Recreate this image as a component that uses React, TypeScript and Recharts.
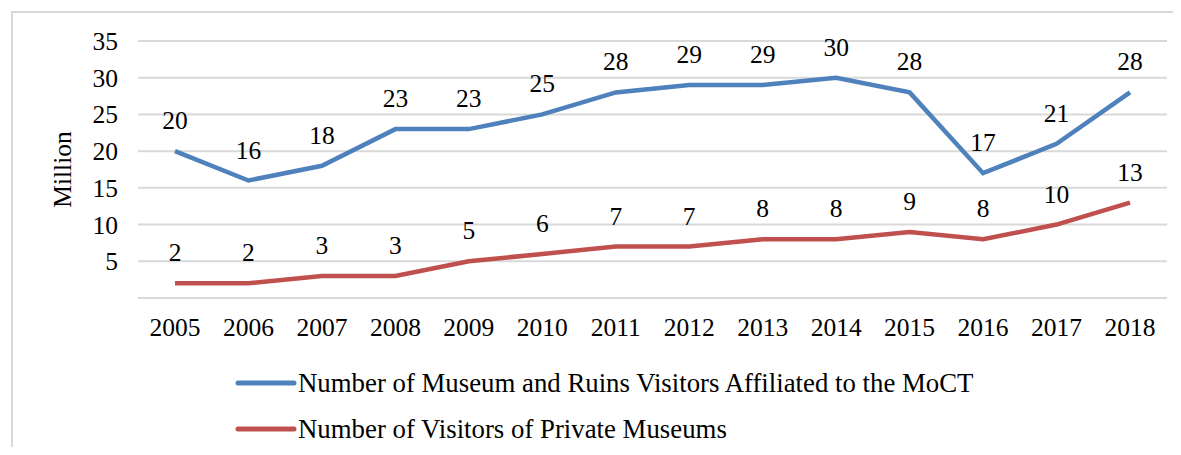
import { CartesianGrid, LabelList, Line, LineChart, XAxis, YAxis } from 'recharts'

const years = ['2005', '2006', '2007', '2008', '2009', '2010', '2011', '2012', '2013', '2014', '2015', '2016', '2017', '2018']
const moctVisitors = [20, 16, 18, 23, 23, 25, 28, 29, 29, 30, 28, 17, 21, 28]
const privateVisitors = [2, 2, 3, 3, 5, 6, 7, 7, 8, 8, 9, 8, 10, 13]
const yTicks = [0, 5, 10, 15, 20, 25, 30, 35]

const moctName = 'Number of Museum and Ruins Visitors Affiliated to the MoCT'
const privateName = 'Number of Visitors of Private Museums'

const data = years.map((year, i) => ({
  year,
  moct: moctVisitors[i],
  priv: privateVisitors[i],
}))

const FONT = '"Liberation Serif", "Times New Roman", serif'
const BLUE = '#4f81bd'
const RED = '#c0504d'
const textStyle = { fill: '#000', fontSize: 25.5, fontFamily: FONT }

function LegendBox() {
  const items = [
    { name: moctName, color: BLUE },
    { name: privateName, color: RED },
  ]
  return (
    <div style={{ fontFamily: FONT, fontSize: 26.8, color: '#000', lineHeight: 1 }}>
      {items.map((item) => (
        <div key={item.name} style={{ display: 'flex', alignItems: 'center', height: 46 }}>
          <svg width={64} height={10} style={{ flex: 'none' }}>
            <line x1={4} y1={5} x2={60} y2={5} stroke={item.color} strokeWidth={5} strokeLinecap="round" />
          </svg>
          <span>{item.name}</span>
        </div>
      ))}
    </div>
  )
}

export default function App() {
  return (
    <div style={{ position: 'relative', margin: -8, width: 1181, height: 455, overflow: 'hidden', background: '#fff' }}>
      <div
        style={{
          position: 'absolute',
          left: 11,
          top: 11,
          width: 1300,
          height: 600,
          border: '2px solid #d9d9d9',
        }}
      />
      <div style={{ position: 'absolute', left: 0, top: 0 }}>
        <LineChart width={1181} height={455} data={data} margin={{ top: 41, right: 14, left: 10, bottom: 127 }}>
          <CartesianGrid vertical={false} stroke="#d9d9d9" strokeWidth={2} />
          <XAxis
            dataKey="year"
            axisLine={false}
            tickLine={false}
            tickMargin={14}
            height={30}
            padding={{ left: 37, right: 37 }}
            tick={textStyle}
          />
          <YAxis
            domain={[0, 35]}
            ticks={yTicks}
            width={128}
            axisLine={false}
            tickLine={false}
            tickMargin={14}
            tickFormatter={(v) => (v === 0 ? '' : String(v))}
            tick={textStyle}
            label={{
              value: 'Million',
              angle: -90,
              position: 'center',
              dx: -12,
              style: textStyle,
            }}
          />
          <Line dataKey="moct" name={moctName} stroke={BLUE} strokeWidth={4.5} dot={false} isAnimationActive={false}>
            <LabelList dataKey="moct" position="top" offset={22} style={textStyle} />
          </Line>
          <Line dataKey="priv" name={privateName} stroke={RED} strokeWidth={4.5} dot={false} isAnimationActive={false}>
            <LabelList dataKey="priv" position="top" offset={22} style={textStyle} />
          </Line>
        </LineChart>
      </div>
      <div style={{ position: 'absolute', left: 234, top: 360 }}>
        <LegendBox />
      </div>
    </div>
  )
}
